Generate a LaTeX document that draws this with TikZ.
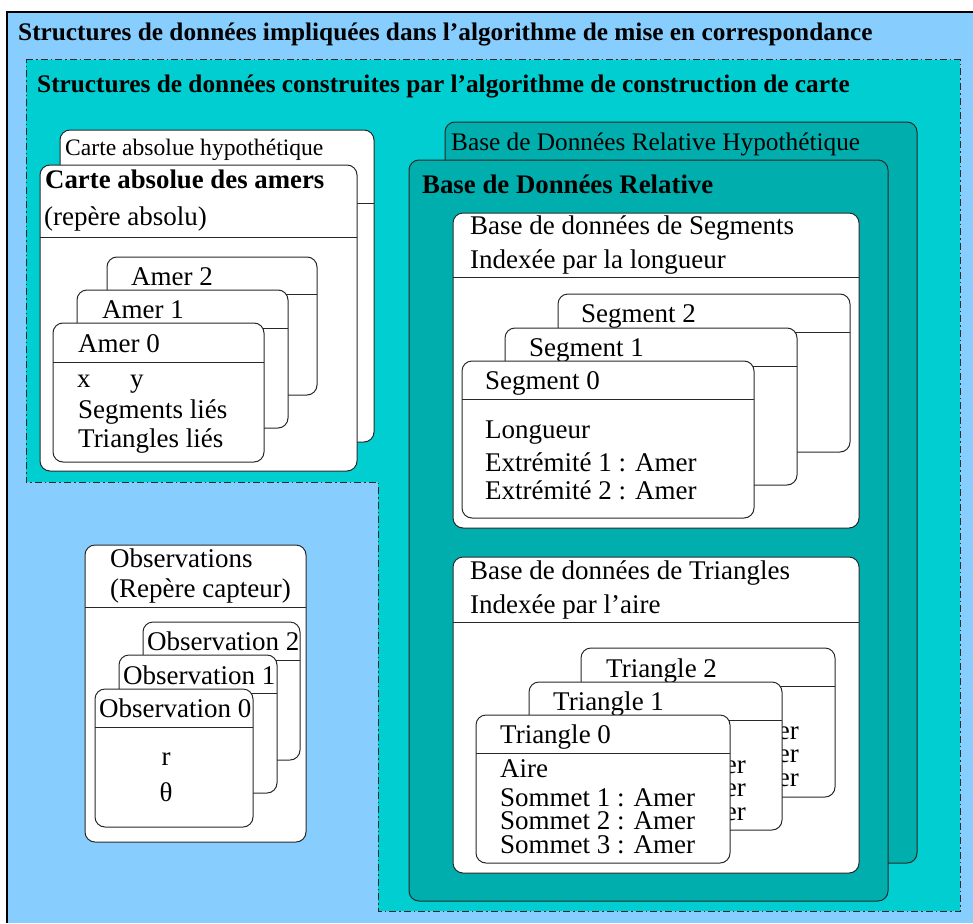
\documentclass[tikz,border=0pt]{standalone}
\usepackage{fontspec}
\setmainfont{Liberation Serif}
\definecolor{skyb}{RGB}{135,206,255}
\definecolor{tealA}{RGB}{0,206,209}
\definecolor{tealB}{RGB}{0,174,174}
\definecolor{edge}{RGB}{40,40,40}
\tikzset{
  boxline/.style={draw=edge, line width=1pt},
  ubox/.style={boxline, rounded corners=10pt},
  txt/.style={anchor=base west, inner sep=0pt, font=\fontsize{27}{32}\selectfont},
  txte/.style={anchor=base east, inner sep=0pt, font=\fontsize{27}{32}\selectfont},
  txtc/.style={anchor=base, inner sep=0pt, font=\fontsize{27}{32}\selectfont},
  bigtitle/.style={anchor=base west, inner sep=0pt, font=\fontsize{25.3}{30}\selectfont\bfseries},
  subtitle/.style={anchor=base west, inner sep=0pt, font=\fontsize{26.8}{32}\selectfont\bfseries},
  smalltxt/.style={anchor=base west, inner sep=0pt, font=\fontsize{23.6}{28}\selectfont},
  midtxt/.style={anchor=base west, inner sep=0pt, font=\fontsize{25.3}{30}\selectfont},
  dashdot/.style={draw=edge, line width=1pt, dash pattern=on 7pt off 3pt on 1.5pt off 3pt}
}
\newcommand{\umlbox}[6]{% fill, x1, y1, x2, y2, divider y
  \draw[ubox, fill=#1] (#2,#3) rectangle (#4,#5);
  \draw[boxline] (#2,#6) -- (#4,#6);}
\newcommand{\plainbox}[5]{% fill, x1, y1, x2, y2
  \draw[ubox, fill=#1] (#2,#3) rectangle (#4,#5);}
\begin{document}
\begin{tikzpicture}[x=1pt,y=-1pt]
\useasboundingbox (0,0) rectangle (973,923);
% outer frame
\fill[skyb] (7,12) rectangle (973,923);
\draw[line width=1.2pt, draw=black] (7,923) -- (7,12) -- (973,12);
\node[bigtitle] (t1) at (18,41) {Structures de données impliquées dans l’algorithme de mise en correspondance};
% teal region
\draw[dashdot, fill=tealA] (26,60) -- (960,60) -- (960,911) -- (378,911) -- (378,482) -- (26,482) -- cycle;
\node[bigtitle] (t2) at (37,93) {Structures de données construites par l’algorithme de construction de carte};

% ---- Carte absolue
\umlbox{white}{60}{130}{374}{442}{203}
\node[smalltxt] (cah) at (65,155) {Carte absolue hypothétique};
\umlbox{white}{40}{165}{357}{471}{237}
\node[subtitle] (cada) at (45,188) {Carte absolue des amers};
\node[txt] (rep) at (44,225) {(repère absolu)};
\umlbox{white}{107}{257}{317}{395}{294}
\node[txt] (a2) at (131,285) {Amer 2};
\umlbox{white}{77}{290}{288}{428}{328}
\node[txt] (a1) at (102,318) {Amer 1};
\umlbox{white}{53}{323}{264}{462}{362}
\node[txt] (a0) at (78,352) {Amer 0};
\node[txt] (ax) at (77,387) {x};
\node[txt] (ay) at (130,387) {y};
\node[txt] (asl) at (78,418) {Segments liés};
\node[txt] (atl) at (78,447) {Triangles liés};

% ---- Base de donnees relative
\plainbox{tealB}{445}{122}{917}{863}
\node[midtxt] (bdrh) at (451,150) {Base de Données Relative Hypothétique};
\plainbox{tealB}{409}{160}{888}{901}
\node[subtitle] (bdr) at (422,193) {Base de Données Relative};

% segments
\umlbox{white}{453}{213}{859}{528}{277}
\node[txt] (sdb1) at (470,234) {Base de données de Segments};
\node[txt] (sdb2) at (470,268) {Indexée par la longueur};
\umlbox{white}{558}{294}{850}{452}{332}
\node[txt] (s2) at (581,322) {Segment 2};
\umlbox{white}{505}{328}{797}{485}{366}
\node[txt] (s1) at (529,356) {Segment 1};
\umlbox{white}{462}{361}{754}{518}{399}
\node[txt] (s0) at (485,389) {Segment 0};
\node[txt] (slen) at (485,438) {Longueur};
\node[txt] (se1) at (485,471) {Extrémité 1 : Amer};
\node[txt] (se2) at (485,499) {Extrémité 2 : Amer};

% triangles
\umlbox{white}{453}{557}{859}{873}{622}
\node[txt] (tdb1) at (470,579) {Base de données de Triangles};
\node[txt] (tdb2) at (470,613) {Indexée par l’aire};
% Triangle 2 (its attribute lines are mostly hidden; only their ends show)
\umlbox{white}{581}{648}{835}{797}{686}
\node[txt] (tr2) at (606,677) {Triangle 2};
\node[txte] (tr2b) at (799,739) {er};
\node[txte] (tr2c) at (799,762) {er};
\node[txte] (tr2d) at (799,786) {er};
% Triangle 1
\umlbox{white}{529}{682}{782}{830}{720}
\node[txt] (tr1) at (553,710) {Triangle 1};
\node[txte] (tr1b) at (746,773) {er};
\node[txte] (tr1c) at (746,796) {er};
\node[txte] (tr1d) at (746,820) {er};
% Triangle 0
\umlbox{white}{476}{715}{730}{863}{753}
\node[txt] (tr0) at (500,743) {Triangle 0};
\node[txt] (tr0a) at (500,777) {Aire};
\node[txt] (tr0b) at (500,806) {Sommet 1 : Amer};
\node[txt] (tr0c) at (500,829) {Sommet 2 : Amer};
\node[txt] (tr0d) at (500,853) {Sommet 3 : Amer};

% ---- Observations
\umlbox{white}{85}{545}{306}{842}{607}
\node[txt] (ob1) at (110,567) {Observations};
\node[txt] (ob2) at (110,597) {(Repère capteur)};
\umlbox{white}{143}{622}{300}{760}{660}
\node[txt] (o2) at (147,650) {Observation 2};
\umlbox{white}{119}{655}{277}{793}{693}
\node[txt] (o1) at (123,684) {Observation 1};
\umlbox{white}{95}{689}{253}{827}{727}
\node[txt] (o0) at (99,717) {Observation 0};
\node[txtc] (or) at (166,765) {r};
\node[txtc] (oth) at (166,801) {θ};
\end{tikzpicture}
\end{document}
